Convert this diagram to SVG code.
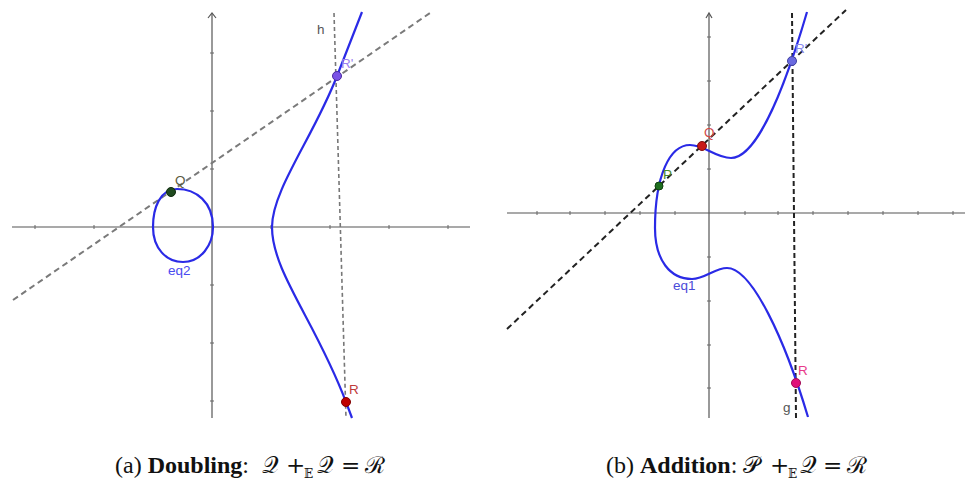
<svg xmlns="http://www.w3.org/2000/svg" width="965" height="483" viewBox="0 0 965 483">
<style>
.axis{stroke:#555;stroke-width:1.2;fill:none}
.tick{stroke:#666;stroke-width:1}
.curve{stroke:#2a2ae6;stroke-width:2.2;fill:none;stroke-linejoin:round}
.dashg{stroke:#7a7a7a;stroke-width:2;stroke-dasharray:6 4;fill:none}
.dashk{stroke:#222;stroke-width:2;stroke-dasharray:6 4;fill:none}
.vdg{stroke:#777;stroke-width:1.6;stroke-dasharray:4 3;fill:none}
.vdk{stroke:#222;stroke-width:2;stroke-dasharray:5 3;fill:none}
.lbl{font-family:"Liberation Sans",Arial,sans-serif;font-size:13.5px}
.cap{font-family:"Liberation Serif","Times New Roman",serif;font-size:24px;fill:#111}
.math{font-family:"DejaVu Serif","Liberation Serif",serif;font-size:23px;fill:#111}
.sub{font-family:"DejaVu Serif","Liberation Serif",serif;font-size:12px;fill:#111}
.pt{stroke-width:1}
</style>
<rect width="965" height="483" fill="#fff"/>

<g id="axes-a">
<line class="axis" x1="212" y1="418" x2="212" y2="14"/>
<path class="axis" d="M208,18 L212,13 L216,18"/>
<line class="axis" x1="12" y1="227" x2="470" y2="227"/>
<g class="tick">
<line x1="35" y1="225" x2="35" y2="229"/><line x1="94" y1="225" x2="94" y2="229"/><line x1="153" y1="225" x2="153" y2="229"/>
<line x1="271" y1="225" x2="271" y2="229"/><line x1="330" y1="225" x2="330" y2="229"/><line x1="389" y1="225" x2="389" y2="229"/><line x1="448" y1="225" x2="448" y2="229"/>
<line x1="210" y1="53" x2="214" y2="53"/><line x1="210" y1="111" x2="214" y2="111"/><line x1="210" y1="169" x2="214" y2="169"/>
<line x1="210" y1="285" x2="214" y2="285"/><line x1="210" y1="343" x2="214" y2="343"/><line x1="210" y1="401" x2="214" y2="401"/>
</g>
</g>

<g id="axes-b">
<line class="axis" x1="709" y1="418" x2="709" y2="14"/>
<path class="axis" d="M706,18 L709,13 L712,18"/>
<line class="axis" x1="507" y1="213" x2="965" y2="213"/>
<g class="tick">
<line x1="537" y1="211" x2="537" y2="215"/><line x1="570" y1="211" x2="570" y2="215"/><line x1="605" y1="211" x2="605" y2="215"/><line x1="640" y1="211" x2="640" y2="215"/><line x1="675" y1="211" x2="675" y2="215"/>
<line x1="745" y1="211" x2="745" y2="215"/><line x1="778" y1="211" x2="778" y2="215"/><line x1="813" y1="211" x2="813" y2="215"/><line x1="848" y1="211" x2="848" y2="215"/><line x1="883" y1="211" x2="883" y2="215"/><line x1="918" y1="211" x2="918" y2="215"/><line x1="953" y1="211" x2="953" y2="215"/>
<line x1="707" y1="37" x2="711" y2="37"/><line x1="707" y1="81" x2="711" y2="81"/><line x1="707" y1="125" x2="711" y2="125"/><line x1="707" y1="169" x2="711" y2="169"/>
<line x1="707" y1="257" x2="711" y2="257"/><line x1="707" y1="301" x2="711" y2="301"/><line x1="707" y1="345" x2="711" y2="345"/><line x1="707" y1="388" x2="711" y2="388"/>
</g>
</g>

<g id="connectors">
<line class="dashg" x1="13" y1="300" x2="430" y2="13"/>
<line class="vdg" x1="334" y1="13" x2="346" y2="418"/>
<line class="dashk" x1="507" y1="329" x2="846" y2="10"/>
<line class="vdk" x1="792" y1="13" x2="796" y2="418"/>
</g>

<g id="curve-eq2">
<path class="curve" d="M362,12 L337,76 C314,136 272,190 272,227 C272,272 316,322 346,402 L352,418"/>
<path class="curve" d="M213,227 C213,202 196,189 177,189 C160,189 153,208 153,227 C153,248 166,262 183,262 C201,262 213,245 213,227 Z"/>
<text class="lbl" x="168" y="275" fill="#4a4af0">eq2</text>
</g>

<g id="curve-eq1">
<path class="curve" d="M807,12 C790,70 760,158 731,158 C715,158 705,145 690,145 C670,145 655,175 655,228 C655,260 670,279 692,279 C705,279 715,268 727,268 C752,268 785,340 808,417"/>
<text class="lbl" x="673" y="290" fill="#4a4ad8">eq1</text>
</g>

<g id="node-Q-a">
<circle class="pt" cx="171" cy="192" r="4.5" fill="#1f4a1f" stroke="#0f2a0f"/>
<text class="lbl" x="175" y="185" fill="#5a5a40">Q</text>
</g>
<g id="node-Rp-a">
<circle class="pt" cx="337" cy="76" r="4.5" fill="#7a52e6" stroke="#4a2aa0"/>
<text class="lbl" x="341" y="68" fill="#9b80f0">R'</text>
</g>
<g id="node-R-a">
<circle class="pt" cx="346" cy="402" r="4.5" fill="#c00000" stroke="#800000"/>
<text class="lbl" x="349" y="394" fill="#c03a3a">R</text>
</g>
<g id="label-h">
<text class="lbl" x="317" y="34" fill="#555">h</text>
</g>

<g id="node-P-b">
<circle class="pt" cx="659" cy="186" r="4" fill="#1e6e1e" stroke="#0f400f"/>
<text class="lbl" x="663" y="179" fill="#4a8a2a">P</text>
</g>
<g id="node-Q-b">
<circle class="pt" cx="702" cy="146" r="4.5" fill="#c81818" stroke="#801010"/>
<text class="lbl" x="704" y="137" fill="#d04848">Q</text>
</g>
<g id="node-Rp-b">
<circle class="pt" cx="792" cy="61" r="4.5" fill="#6a6ae0" stroke="#4040a0"/>
<text class="lbl" x="795" y="53" fill="#8888f0">R'</text>
</g>
<g id="node-R-b">
<circle class="pt" cx="796" cy="383" r="4.5" fill="#e0107a" stroke="#a00a55"/>
<text class="lbl" x="798" y="375" fill="#e83a8a">R</text>
</g>
<g id="label-g">
<text class="lbl" x="783" y="412" fill="#555">g</text>
</g>

<g id="caption-a">
<text class="cap" x="115" y="473">(a) <tspan font-weight="bold">Doubling</tspan>:</text>
<text class="math" x="262" y="473">𝒬</text>
<text class="math" x="286" y="473">+</text>
<text class="sub" x="304" y="478">𝔼</text>
<text class="math" x="317" y="473">𝒬</text>
<text class="math" x="341" y="473">=</text>
<text class="math" x="365" y="473">ℛ</text>
</g>
<g id="caption-b">
<text class="cap" x="606" y="473">(b) <tspan font-weight="bold">Addition</tspan>:</text>
<text class="math" x="743" y="473">𝒫</text>
<text class="math" x="770" y="473">+</text>
<text class="sub" x="788" y="478">𝔼</text>
<text class="math" x="800" y="473">𝒬</text>
<text class="math" x="823" y="473">=</text>
<text class="math" x="847" y="473">ℛ</text>
</g>
</svg>
